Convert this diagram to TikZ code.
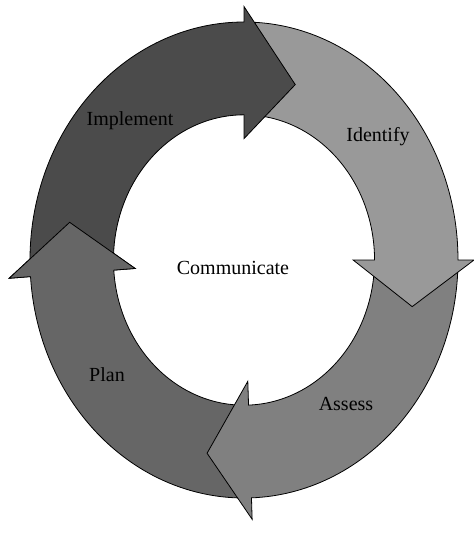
\documentclass[tikz,border=0pt]{standalone}
\usepackage{fontspec}
\setmainfont{Liberation Serif}
\usepackage{tikz}
\definecolor{implementgray}{RGB}{75,75,75}
\definecolor{identifygray}{RGB}{153,153,153}
\definecolor{assessgray}{RGB}{128,128,128}
\definecolor{plangray}{RGB}{102,102,102}
\tikzset{ringarrow/.style={draw=black, line width=0.8pt, line join=miter},
         steplabel/.style={font=\fontsize{20}{24}\selectfont, inner sep=0pt}}
% #1 colour, #2 tail angle, #3 head base angle, #4 tip angle,
% #5 tip radius, #6 outer barb radius
\newcommand{\cyclearrow}[6]{%
  \filldraw[ringarrow, fill=#1] (#2:1) arc[start angle=#2, end angle=#3, radius=1]
    -- (#3:#6) -- (#4:#5) -- (#3:0.51) -- (#3:0.61)
    arc[start angle=#3, end angle=#2, radius=0.61] -- cycle;}
\newcommand{\cyclehead}[5]{%
  \fill[#1] (#2:0.61) -- (#2:0.51) -- (#3:#4) -- (#2:#5) -- (#2:1) -- cycle;
  \draw[ringarrow] (#2:0.61) -- (#2:0.51) -- (#3:#4) -- (#2:#5) -- (#2:1);}

\begin{document}
\begin{tikzpicture}[x=1pt, y=1pt]
  \useasboundingbox (0,0) rectangle (474,-539);
  \begin{scope}[shift={(244pt,-260pt)}, x=214pt, y=238pt]
    \cyclearrow{plangray}{-91}{-176}{169}{0.83}{1.10}
    \cyclearrow{assessgray}{-3}{-88}{-102}{0.83}{1.09}
    \cyclearrow{identifygray}{87}{0}{-14}{0.81}{1.075}
    \cyclearrow{implementgray}{181}{90}{72}{0.775}{1.065}
    % plan head goes back on top of the implement tail
    \cyclehead{plangray}{184}{169}{0.83}{1.10}
  \end{scope}
  \node (implement)[steplabel] at (130,-121) {Implement};
  \node (identify)[steplabel] at (378,-137) {Identify};
  \node (communicate)[steplabel] at (233,-268) {Communicate};
  \node (plan)[steplabel] at (107,-375) {Plan};
  \node (assess)[steplabel] at (346,-404) {Assess};
\end{tikzpicture}
\end{document}
